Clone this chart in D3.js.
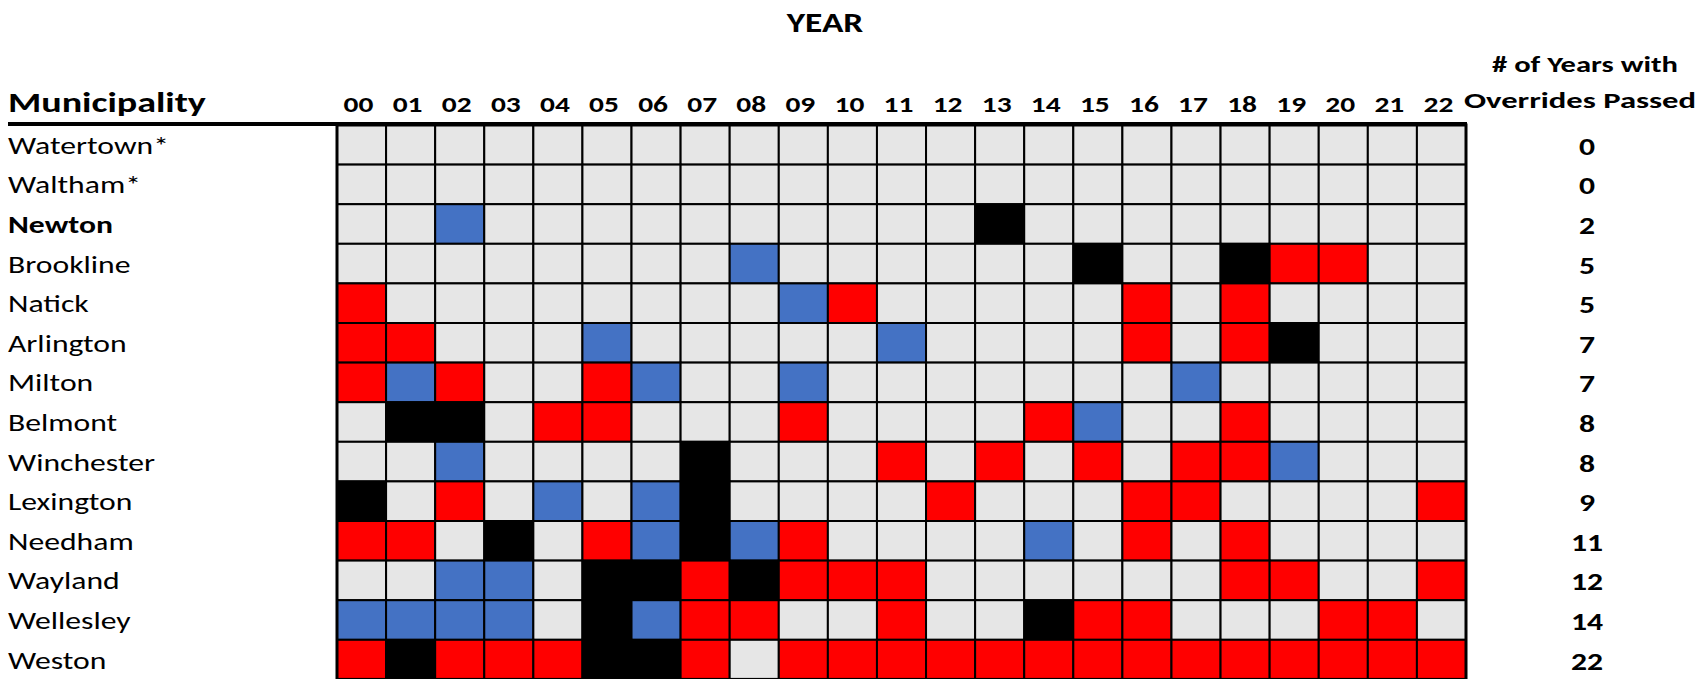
<!DOCTYPE html>
<html>
<head>
<meta charset="utf-8">
<script src="https://cdn.jsdelivr.net/npm/d3@7"></script>
<style>
  body { margin: 0; background: #fff; }
  text { font-family: Carlito, Calibri, Lato, sans-serif; fill: #000; }
</style>
</head>
<body>
<script>
// years shown as two-digit labels
var years = ['00', '01', '02', '03', '04', '05', '06', '07', '08', '09', '10',
  '11', '12', '13', '14', '15', '16', '17', '18', '19', '20', '21', '22'];

var municipalities = ['Watertown*', 'Waltham*', 'Newton', 'Brookline', 'Natick',
  'Arlington', 'Milton', 'Belmont', 'Winchester', 'Lexington', 'Needham',
  'Wayland', 'Wellesley', 'Weston'];

var overrideCounts = [0, 0, 2, 5, 5, 7, 7, 8, 8, 9, 11, 12, 14, 22];

// one character per year: - none, R red, B blue, K black
var yearStatus = [
  '-----------------------',
  '-----------------------',
  '--B----------K---------',
  '--------B------K--KRR--',
  'R--------BR-----R-R----',
  'RR---B-----B----R-RK---',
  'RBR--RB--B-------B-----',
  '-KK-RR---R----RB--R----',
  '--B----K---R-R-R-RRB---',
  'K-R-B-BK----R---RR----R',
  'RR-K-RBKBR----B-R-R----',
  '--BB-KKRKRRR------RR--R',
  'BBBB-KBRR--R--KRR---RR-',
  'RKRRRKKR-RRRRRRRRRRRRRR'
];

var highlight = 'Newton';

var colors = { '-': '#e6e6e6', R: '#ff0000', B: '#4472c4', K: '#000000' };

var width = 1698,
    height = 679;

var x = d3.scaleBand()
  .domain(years)
  .range([337, 1466]);

var y = d3.scaleBand()
  .domain(municipalities)
  .range([125, 125 + 39.6 * municipalities.length]);

var svg = d3.select('body')
  .append('svg')
  .attr('width', width)
  .attr('height', height);

// the source sheet text is wide, so stretch glyphs sideways
function place(px, py, sx) {
  return 'translate(' + px + ',' + py + ') scale(' + sx + ',1)';
}

var cells = [];
municipalities.forEach(function(m, i) {
  yearStatus[i].split('').forEach(function(c, j) {
    cells.push({ town: m, year: years[j], code: c });
  });
});

svg.append('g')
  .selectAll('rect')
  .data(cells)
  .enter().append('rect')
  .attr('x', function(d) { return x(d.year); })
  .attr('y', function(d) { return y(d.town); })
  .attr('width', x.bandwidth())
  .attr('height', y.bandwidth())
  .attr('fill', function(d) { return colors[d.code]; })
  .attr('stroke', '#000')
  .attr('stroke-width', 2);

// outer frame of the grid
svg.append('rect')
  .attr('x', x.range()[0])
  .attr('y', y.range()[0])
  .attr('width', x.range()[1] - x.range()[0])
  .attr('height', y.range()[1] - y.range()[0])
  .attr('fill', 'none')
  .attr('stroke', '#000')
  .attr('stroke-width', 3);

// heavy rule under the header
svg.append('line')
  .attr('x1', 8)
  .attr('x2', x.range()[1] + 1)
  .attr('y1', 124)
  .attr('y2', 124)
  .attr('stroke', '#000')
  .attr('stroke-width', 4);

svg.append('text')
  .attr('transform', place(825, 32, 1.22))
  .attr('text-anchor', 'middle')
  .style('font-weight', 'bold')
  .style('font-size', '29px')
  .text('YEAR');

svg.append('text')
  .attr('transform', place(8, 112, 1.36))
  .style('font-weight', 'bold')
  .style('font-size', '28px')
  .text('Municipality');

svg.append('g')
  .selectAll('text')
  .data(years)
  .enter().append('text')
  .attr('transform', function(d) { return place(x(d) + x.bandwidth() / 2 - 3, 112, 1.28); })
  .attr('text-anchor', 'middle')
  .style('font-weight', 'bold')
  .style('font-size', '23px')
  .text(function(d) { return d; });

var header = svg.append('g')
  .attr('text-anchor', 'middle')
  .style('font-weight', 'bold')
  .style('font-size', '23px');
header.append('text').attr('transform', place(1585, 72, 1.33)).text('# of Years with');
header.append('text').attr('transform', place(1580, 108, 1.42)).text('Overrides Passed');

svg.append('g')
  .selectAll('text')
  .data(municipalities)
  .enter().append('text')
  .attr('transform', function(d) { return place(8, y(d) + y.bandwidth() / 2 + 9, 1.32); })
  .style('font-size', '24px')
  .style('font-weight', function(d) { return d === highlight ? 'bold' : 'normal'; })
  .text(function(d) { return d; });

svg.append('g')
  .selectAll('text')
  .data(overrideCounts)
  .enter().append('text')
  .attr('transform', function(d, i) {
    return place(1587, y(municipalities[i]) + y.bandwidth() / 2 + 10, 1.32);
  })
  .attr('text-anchor', 'middle')
  .style('font-weight', 'bold')
  .style('font-size', '24px')
  .text(function(d) { return d; });
</script>
</body>
</html>
